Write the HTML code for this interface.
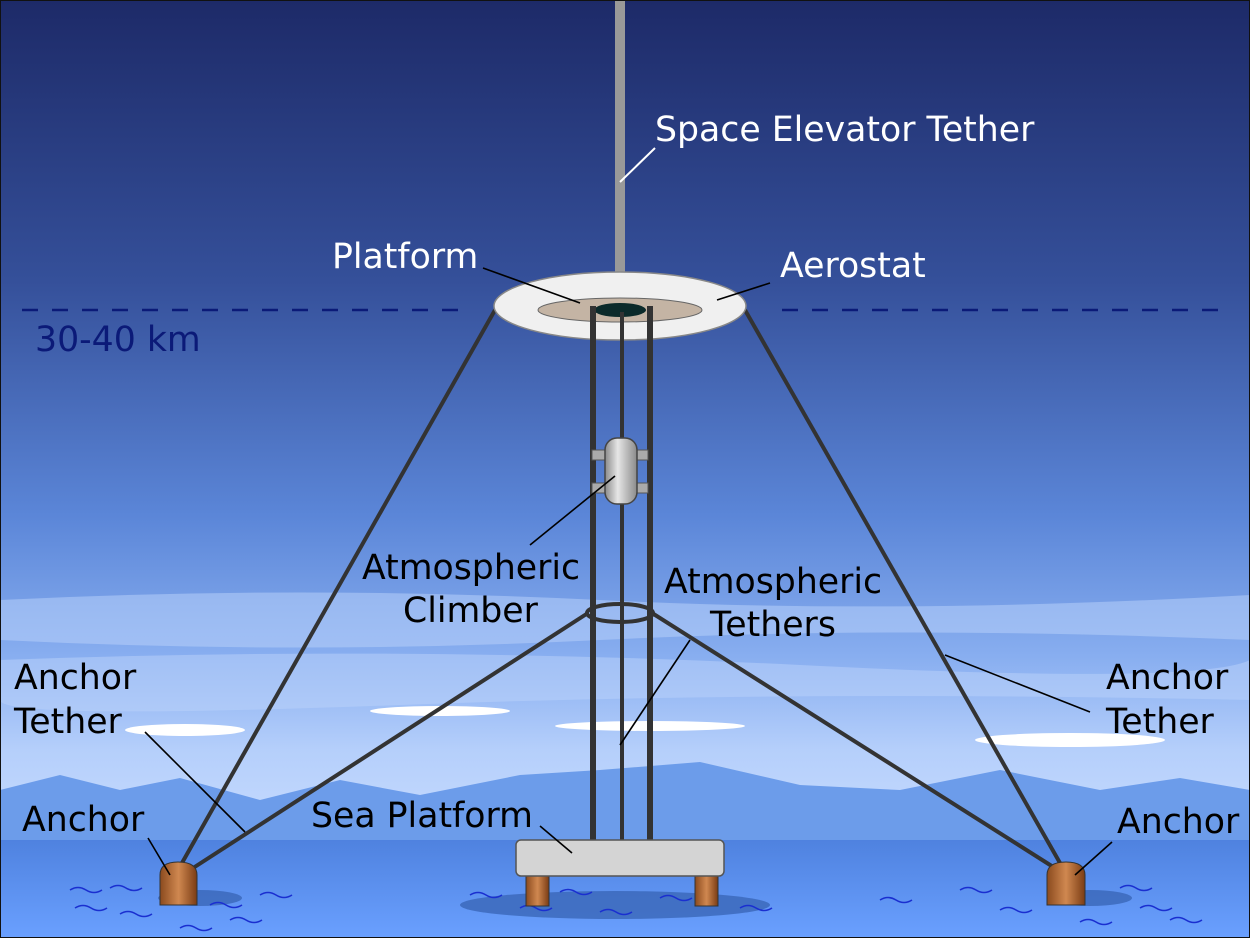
<!DOCTYPE html>
<html><head><meta charset="utf-8"><style>
html,body{margin:0;padding:0;background:#fff}
svg{display:block}
text{font-family:"DejaVu Sans","Liberation Sans",sans-serif;font-size:34.7px}
</style></head><body>
<svg width="1250" height="938" viewBox="0 0 1250 938">
<defs>
<linearGradient id="sky" x1="0" y1="0" x2="0" y2="1">
<stop offset="0" stop-color="#1d2a68"/>
<stop offset="0.3" stop-color="#35509a"/>
<stop offset="0.55" stop-color="#5b86d8"/>
<stop offset="0.7" stop-color="#88aef0"/>
<stop offset="0.8" stop-color="#b5cffb"/>
<stop offset="0.9" stop-color="#c8dcff"/>
</linearGradient>
<linearGradient id="sea" x1="0" y1="0" x2="0" y2="1">
<stop offset="0" stop-color="#4f82df"/>
<stop offset="1" stop-color="#6aa0ff"/>
</linearGradient>
<linearGradient id="climb" x1="0" y1="0" x2="1" y2="0">
<stop offset="0" stop-color="#8a8a8a"/><stop offset="0.4" stop-color="#e6e6e6"/><stop offset="1" stop-color="#8a8a8a"/>
</linearGradient>
<linearGradient id="brown" x1="0" y1="0" x2="1" y2="0">
<stop offset="0" stop-color="#8a4a1e"/><stop offset="0.5" stop-color="#d08850"/><stop offset="1" stop-color="#7a3c14"/>
</linearGradient>
</defs>
<rect x="0" y="0" width="1250" height="938" fill="url(#sky)"/>
<g fill="#bcd3fb" opacity="0.5">
<path d="M0 600 Q300 585 600 600 T1250 595 L1250 640 Q900 625 600 640 T0 640Z"/>
<path d="M0 660 Q400 645 800 665 T1250 660 L1250 700 Q800 690 400 705 T0 700Z"/>
</g>
<g fill="#ffffff">
<ellipse cx="185" cy="730" rx="60" ry="6"/>
<ellipse cx="440" cy="711" rx="70" ry="5"/>
<ellipse cx="650" cy="726" rx="95" ry="5"/>
<ellipse cx="1070" cy="740" rx="95" ry="7"/>
</g>
<path d="M0 790 L60 775 L120 790 L180 778 L260 800 L340 780 L420 795 L520 775 L600 770 L700 762 L800 785 L900 790 L1000 770 L1100 790 L1180 778 L1250 790 L1250 845 L0 845Z" fill="#6c9cea"/>
<rect x="0" y="840" width="1250" height="98" fill="url(#sea)"/>
<g fill="#3a66b8" opacity="0.8">
<ellipse cx="615" cy="905" rx="155" ry="14"/>
<ellipse cx="200" cy="898" rx="42" ry="8"/>
<ellipse cx="1090" cy="898" rx="42" ry="8"/>
</g>
<g stroke="#1a2fd0" stroke-width="1.6" fill="none">
<path d="M70 890 q8 -5 16 0 t16 0 M110 888 q8 -5 16 0 t16 0 M75 908 q8 -5 16 0 t16 0 M120 914 q8 -5 16 0 t16 0 M210 905 q8 -5 16 0 t16 0 M230 920 q8 -5 16 0 t16 0 M260 895 q8 -5 16 0 t16 0 M180 928 q8 -5 16 0 t16 0"/>
<path d="M470 895 q8 -5 16 0 t16 0 M520 908 q8 -5 16 0 t16 0 M600 912 q8 -5 16 0 t16 0 M660 898 q8 -5 16 0 t16 0 M740 908 q8 -5 16 0 t16 0 M560 892 q8 -5 16 0 t16 0"/>
<path d="M960 890 q8 -5 16 0 t16 0 M1000 910 q8 -5 16 0 t16 0 M1120 888 q8 -5 16 0 t16 0 M1140 908 q8 -5 16 0 t16 0 M1080 922 q8 -5 16 0 t16 0 M1170 920 q8 -5 16 0 t16 0 M880 900 q8 -5 16 0 t16 0"/>
</g>
<rect x="615" y="0" width="10" height="274" fill="#999"/>
<g stroke="#0b1a78" stroke-width="2.5" stroke-dasharray="16,14">
<line x1="22" y1="310" x2="460" y2="310"/>
<line x1="782" y1="310" x2="1220" y2="310"/>
</g>
<text x="35" y="351" fill="#0b1a78">30-40 km</text>
<g stroke="#333" stroke-width="4" fill="none">
<line x1="495" y1="310" x2="178" y2="870"/>
<line x1="745" y1="310" x2="1064" y2="870"/>
<line x1="588" y1="613" x2="190" y2="870"/>
<line x1="652" y1="613" x2="1058" y2="870"/>
</g>
<ellipse cx="620" cy="306" rx="126" ry="34" fill="#f0f0f0" stroke="#888" stroke-width="1.5"/>
<ellipse cx="620" cy="310" rx="82" ry="12" fill="#c4b4a4" stroke="#666"/>
<ellipse cx="620" cy="310" rx="26" ry="7" fill="#0b2a2a"/>
<g stroke="#333" fill="none">
<line x1="593" y1="306" x2="593" y2="842" stroke-width="6"/>
<line x1="622" y1="312" x2="622" y2="842" stroke-width="4"/>
<line x1="650" y1="306" x2="650" y2="842" stroke-width="6"/>
</g>
<ellipse cx="620" cy="613" rx="33" ry="9" fill="none" stroke="#333" stroke-width="4"/>
<g>
<rect x="592" y="450" width="16" height="10" fill="#aaa" stroke="#555"/>
<rect x="632" y="450" width="16" height="10" fill="#aaa" stroke="#555"/>
<rect x="592" y="483" width="16" height="10" fill="#aaa" stroke="#555"/>
<rect x="632" y="483" width="16" height="10" fill="#aaa" stroke="#555"/>
<rect x="605" y="438" width="32" height="66" rx="12" fill="url(#climb)" stroke="#444" stroke-width="1.5"/>
</g>
<g>
<rect x="526" y="874" width="23" height="32" fill="url(#brown)" stroke="#333"/>
<rect x="695" y="874" width="23" height="32" fill="url(#brown)" stroke="#333"/>
<rect x="516" y="840" width="208" height="36" rx="5" fill="#d4d4d4" stroke="#555" stroke-width="1.5"/>
</g>
<path d="M160 905 L160 875 Q160 862 178 862 Q197 862 197 875 L197 905Z" fill="url(#brown)" stroke="#333"/>
<path d="M1047 905 L1047 875 Q1047 862 1066 862 Q1085 862 1085 875 L1085 905Z" fill="url(#brown)" stroke="#333"/>
<g stroke="#fff" stroke-width="2">
<line x1="655" y1="148" x2="620" y2="182"/>
</g>
<g stroke="#000" stroke-width="1.6">
<line x1="483" y1="268" x2="580" y2="303"/>
<line x1="770" y1="283" x2="717" y2="300"/>
<line x1="530" y1="545" x2="615" y2="476"/>
<line x1="690" y1="640" x2="620" y2="745"/>
<line x1="145" y1="732" x2="245" y2="832"/>
<line x1="1090" y1="712" x2="945" y2="655"/>
<line x1="148" y1="838" x2="170" y2="875"/>
<line x1="1112" y1="842" x2="1075" y2="875"/>
<line x1="540" y1="826" x2="572" y2="853"/>
</g>
<g fill="#fff">
<text x="655" y="141">Space Elevator Tether</text>
<text x="332" y="268">Platform</text>
<text x="780" y="277">Aerostat</text>
</g>
<g fill="#000">
<text x="362" y="579">Atmospheric</text>
<text x="403" y="622">Climber</text>
<text x="664" y="593">Atmospheric</text>
<text x="710" y="636">Tethers</text>
<text x="14" y="689">Anchor</text>
<text x="14" y="733">Tether</text>
<text x="1106" y="689">Anchor</text>
<text x="1106" y="733">Tether</text>
<text x="22" y="831">Anchor</text>
<text x="1117" y="833">Anchor</text>
<text x="311" y="827">Sea Platform</text>
</g>
<rect x="0.5" y="0.5" width="1249" height="937" fill="none" stroke="#111" stroke-width="1"/>
</svg>
</body></html>
